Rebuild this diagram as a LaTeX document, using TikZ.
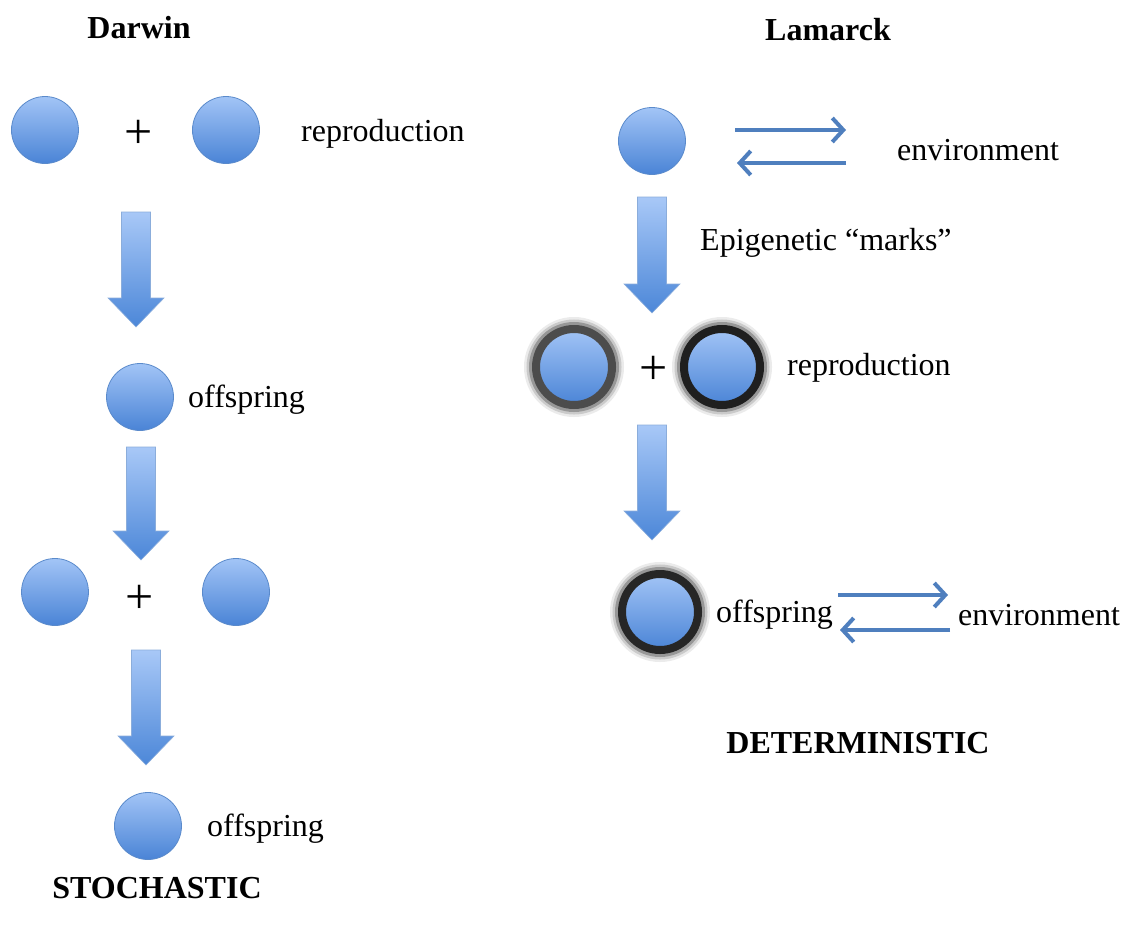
\documentclass[tikz,border=0pt]{standalone}
\usepackage{fontspec}
\setmainfont{Liberation Serif}
\usepackage{tikz}
\usetikzlibrary{arrows.meta}
\definecolor{ballTop}{HTML}{A2C4F6}
\definecolor{ballBot}{HTML}{4A84D6}
\definecolor{ballEdge}{HTML}{5A8ACB}
\definecolor{fatTop}{HTML}{A8C8F7}
\definecolor{fatBot}{HTML}{4C87D8}
\definecolor{thinBlue}{HTML}{4F7FBE}
\newcommand{\fatarrow}[3] % {x}{y haut}{y bas}
{
	\draw [ballEdge!70, line width=0.6pt, top color=fatTop, bottom color=fatBot] (#1-14.5,#2) -- (#1+14.5,#2) -- (#1+14.5,#3-29) -- (#1+28,#3-29) -- (#1,#3) -- (#1-28,#3-29) -- (#1-14.5,#3-29) -- cycle;
}
\tikzset{
	ball/.style={circle, minimum size=67pt, inner sep=0pt, draw=ballEdge, line width=0.8pt, top color=ballTop, bottom color=ballBot},
	markedball/.style={circle, minimum size=76pt, inner sep=0pt, top color=ballTop, bottom color=ballBot, draw=black!#1, line width=8pt,
		preaction={draw=black, opacity=0.08, line width=24pt},
		preaction={draw=black, opacity=0.14, line width=19pt},
		preaction={draw=black, opacity=0.25, line width=14pt}},
	word/.style={anchor=west, inner sep=0pt, yshift=-3pt, font=\fontsize{32}{38}\selectfont},
	heading/.style={inner sep=0pt, font=\fontsize{32}{38}\selectfont\bfseries},
	plus/.style={inner sep=0pt, yshift=-3pt, font=\fontsize{50}{50}\selectfont},
	thinarrow/.style={thinBlue, line width=4pt, -{Straight Barb[length=11pt, width=24pt, line width=4pt]}}
}
\begin{document}
\begin{tikzpicture}[x=1pt, y=-1pt]
	\useasboundingbox (0,0) rectangle (1124,926);

	% Darwin
	\node[heading] (darwin) at (139,28) {Darwin};
	\node[ball] (d1a) at (45,130) {};
	\node[plus] (dplusA) at (139,131) {+};
	\node[ball] (d1b) at (226,130) {};
	\node[word] (drep) at (301,131) {reproduction};
	\fatarrow{136}{212}{327}
	\node[ball] (d2) at (140,397) {};
	\node[word] (doffA) at (188,397) {offspring};
	\fatarrow{141}{447}{560}
	\node[ball] (d3a) at (55,592) {};
	\node[plus] (dplusB) at (140,596) {+};
	\node[ball] (d3b) at (236,592) {};
	\fatarrow{146}{650}{765}
	\node[ball] (d4) at (148,826) {};
	\node[word] (doffB) at (207,826) {offspring};
	\node[heading] (stoch) at (157,888) {STOCHASTIC};

	% Lamarck
	\node[heading] (lamarck) at (828,30) {Lamarck};
	\node[ball] (l1) at (652,141) {};
	\node[word] (envA) at (897,147) {environment};
	\coordinate (envAin) at (846,130);
	\coordinate (envAout) at (737,163);
	\draw[thinarrow] (735,130) -- (envAin);
	\draw[thinarrow] (846,163) -- (envAout);
	\fatarrow{652}{197}{313}
	\node[word] (epi) at (700,240) {Epigenetic “marks”};
	\node[markedball=70] (l2a) at (574,367) {};
	\node[plus] (lplus) at (654,367) {+};
	\node[markedball=88] (l2b) at (722,367) {};
	\node[word] (lrep) at (787,365) {reproduction};
	\fatarrow{652}{425}{540}
	\node[markedball=85] (l3) at (660,612) {};
	\node[word] (loff) at (716,612) {offspring};
	\node[word] (envB) at (958,612) {environment};
	\coordinate (envBin) at (948,595);
	\coordinate (envBout) at (840,630);
	\draw[thinarrow] (838,595) -- (envBin);
	\draw[thinarrow] (950,630) -- (envBout);
	\node[heading] (determ) at (858,743) {DETERMINISTIC};
\end{tikzpicture}
\end{document}
